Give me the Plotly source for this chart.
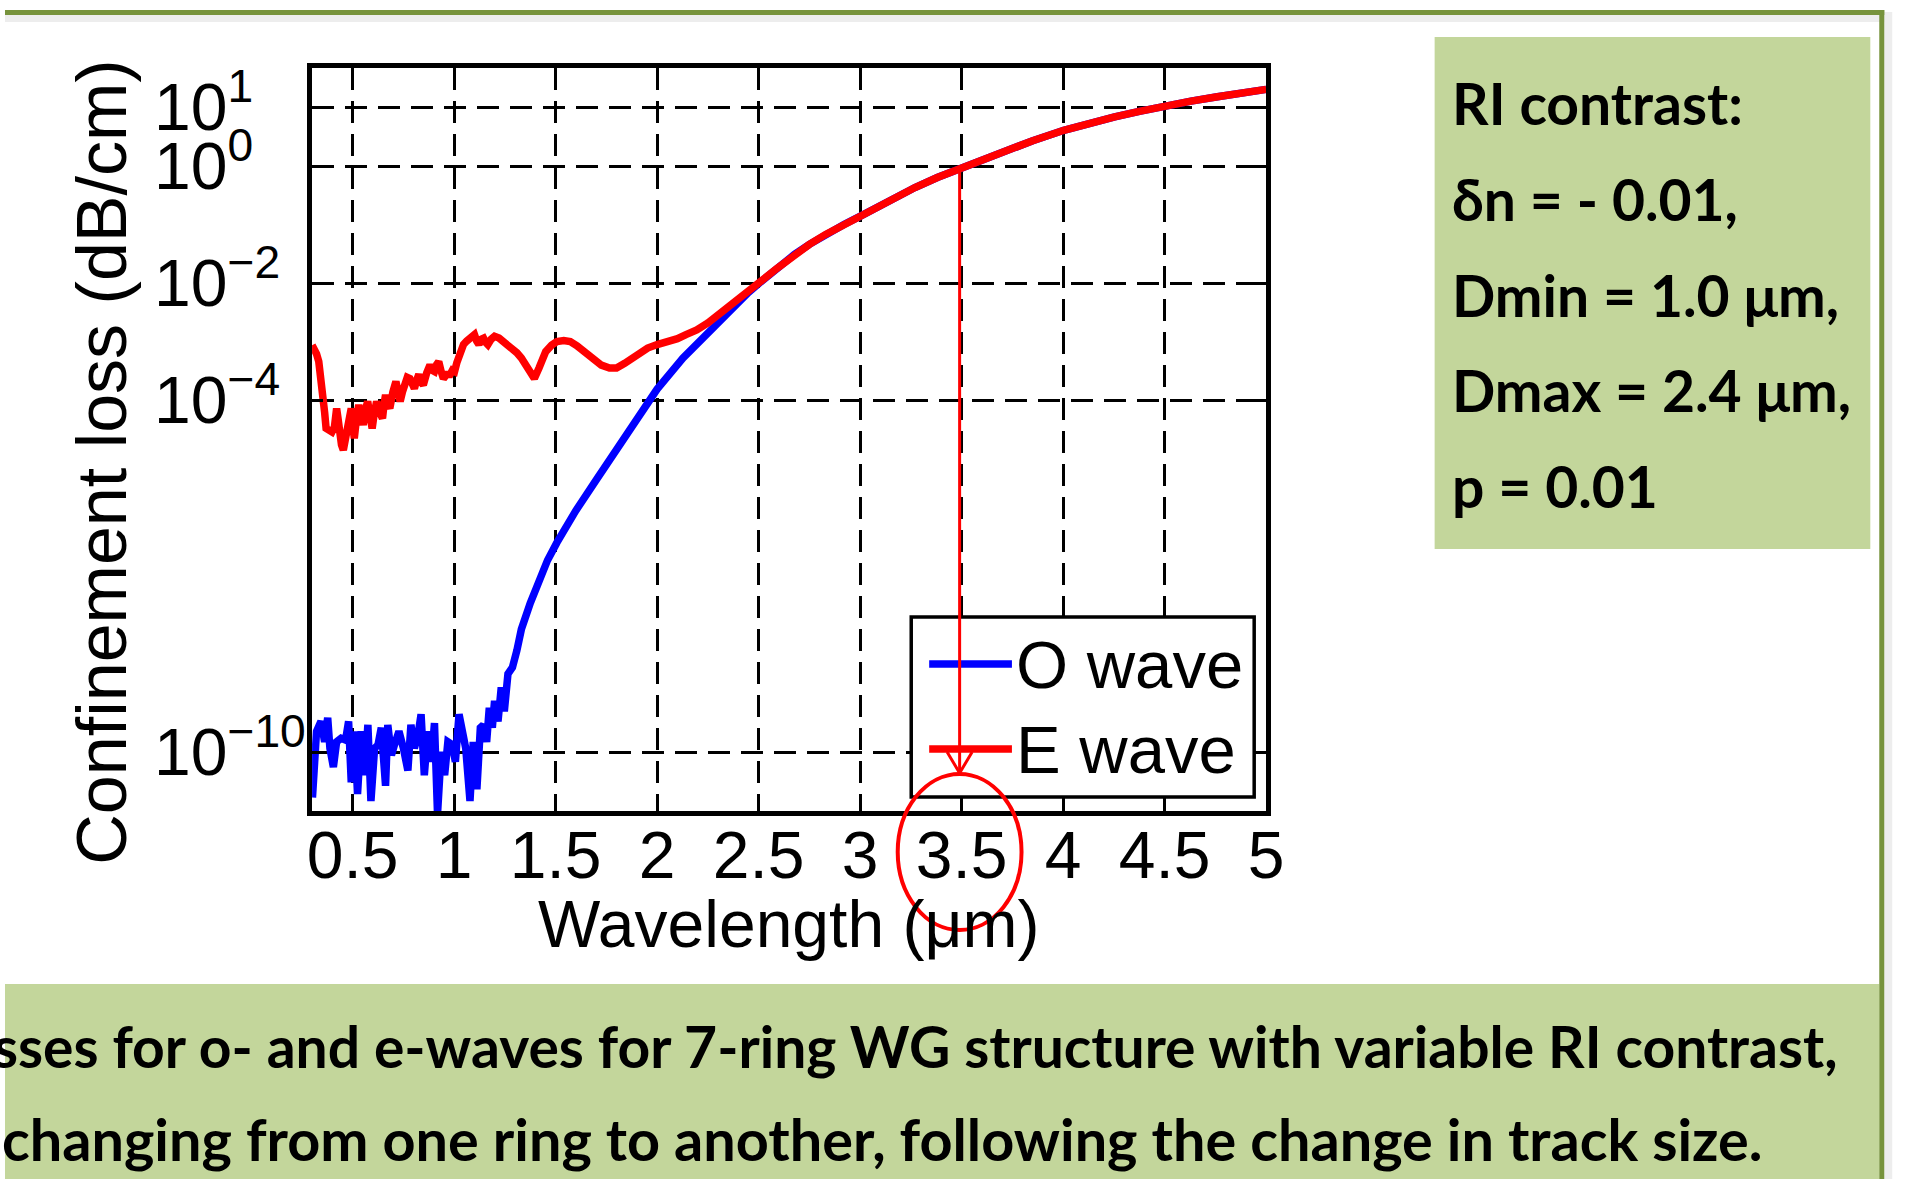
import plotly.graph_objects as go

W, H = 1927, 1179

# ---------------- data ----------------
# O wave (blue): wavelength in um, confinement loss as log10(dB/cm)
o_wave_wavelength = [
    0.302, 0.322, 0.344, 0.362, 0.377, 0.388, 0.405, 0.421, 0.443, 0.465,
    0.480, 0.493, 0.509, 0.524, 0.542, 0.559, 0.575, 0.590, 0.608, 0.625,
    0.641, 0.662, 0.673, 0.691, 0.706, 0.728, 0.750, 0.772, 0.787, 0.804,
    0.822, 0.837, 0.853, 0.870, 0.888, 0.903, 0.918, 0.936, 0.953, 0.969,
    0.991, 1.006, 1.024, 1.041, 1.057, 1.078, 1.094, 1.112, 1.129, 1.144,
    1.160, 1.173, 1.188, 1.199, 1.216, 1.232, 1.247, 1.265, 1.287, 1.309,
    1.331, 1.375, 1.418, 1.460, 1.506, 1.550, 1.600, 1.700, 1.800, 1.900,
    2.000, 2.127, 2.239, 2.326, 2.392, 2.450, 2.500, 2.590, 2.677, 2.750,
    2.830, 2.920, 3.006, 3.140, 3.270, 3.380, 3.490, 3.600, 3.708, 3.850,
    4.003, 4.130, 4.254, 4.375, 4.497, 4.630, 4.760, 4.880, 5.000,
]
o_wave_log10_loss = [
    -10.77, -9.64, -9.47, -9.82, -9.41, -9.93, -10.25, -9.82, -9.76, -9.79,
    -9.47, -10.51, -9.64, -10.71, -9.64, -10.39, -9.53, -10.83, -9.93, -9.87,
    -9.58, -10.57, -9.53, -10.05, -9.87, -9.64, -9.93, -10.31, -9.53, -9.93,
    -9.70, -9.35, -10.39, -9.64, -10.16, -9.50, -11.05, -9.99, -10.39, -9.82,
    -9.87, -10.16, -9.35, -9.76, -9.93, -10.83, -9.82, -10.63, -9.58, -9.53,
    -9.82, -9.24, -9.58, -9.12, -9.47, -8.89, -9.30, -8.66, -8.55, -8.26,
    -7.90, -7.45, -7.04, -6.72, -6.42, -6.14, -5.87, -5.35, -4.84, -4.32,
    -3.80, -3.27, -2.87, -2.56, -2.33, -2.15, -2.00, -1.74, -1.50, -1.33,
    -1.16, -0.99, -0.84, -0.59, -0.36, -0.19, -0.04, 0.11, 0.245, 0.44,
    0.617, 0.74, 0.845, 0.94, 1.03, 1.115, 1.19, 1.255, 1.315,
]

# E wave (red)
e_wave_wavelength = [
    0.300, 0.310, 0.322, 0.333, 0.344, 0.354, 0.362, 0.369, 0.383, 0.398,
    0.410, 0.421, 0.428, 0.436, 0.445, 0.454, 0.465, 0.476, 0.485, 0.493,
    0.500, 0.508, 0.519, 0.530, 0.541, 0.552, 0.563, 0.574, 0.585, 0.596,
    0.607, 0.618, 0.632, 0.647, 0.655, 0.662, 0.672, 0.683, 0.698, 0.713,
    0.724, 0.734, 0.745, 0.756, 0.769, 0.782, 0.793, 0.804, 0.815, 0.826,
    0.837, 0.848, 0.865, 0.881, 0.892, 0.903, 0.914, 0.924, 0.936, 0.947,
    0.963, 0.980, 0.991, 1.002, 1.013, 1.024, 1.035, 1.046, 1.062, 1.078,
    1.089, 1.100, 1.111, 1.122, 1.133, 1.145, 1.155, 1.166, 1.182, 1.199,
    1.221, 1.243, 1.265, 1.287, 1.309, 1.331, 1.353, 1.375, 1.395, 1.418,
    1.435, 1.451, 1.480, 1.506, 1.540, 1.572, 1.605, 1.638, 1.680, 1.725,
    1.765, 1.800, 1.840, 1.879, 1.915, 1.953, 2.000, 2.063, 2.100, 2.142,
    2.195, 2.250, 2.304, 2.350, 2.392, 2.450, 2.500, 2.590, 2.677, 2.750,
    2.830, 2.920, 3.006, 3.140, 3.270, 3.380, 3.490, 3.600, 3.708, 3.850,
    4.003, 4.130, 4.254, 4.375, 4.497, 4.630, 4.760, 4.880, 5.000,
]
e_wave_log10_loss = [
    -3.05, -3.10, -3.20, -3.33, -3.60, -3.90, -4.20, -4.47, -4.52, -4.53,
    -4.45, -4.13, -4.30, -4.59, -4.75, -4.84, -4.65, -4.53, -4.30, -4.13,
    -4.40, -4.64, -4.30, -4.07, -4.25, -4.41, -4.15, -4.01, -4.25, -4.47,
    -4.20, -4.01, -4.18, -4.30, -4.05, -3.90, -4.05, -4.13, -3.85, -3.67,
    -3.85, -4.01, -3.85, -3.73, -3.60, -3.62, -3.75, -3.79, -3.65, -3.55,
    -3.68, -3.73, -3.52, -3.39, -3.48, -3.50, -3.38, -3.33, -3.50, -3.62,
    -3.55, -3.55, -3.48, -3.50, -3.35, -3.21, -3.10, -3.04, -2.98, -2.93,
    -2.90, -2.87, -2.98, -3.04, -2.95, -2.93, -3.00, -3.04, -2.95, -2.90,
    -2.93, -2.99, -3.04, -3.10, -3.18, -3.27, -3.40, -3.56, -3.62, -3.44,
    -3.28, -3.16, -3.05, -2.99, -2.97, -2.99, -3.06, -3.16, -3.28, -3.39,
    -3.44, -3.44, -3.36, -3.27, -3.18, -3.10, -3.04, -2.99, -2.94, -2.87,
    -2.79, -2.67, -2.53, -2.41, -2.30, -2.14, -1.99, -1.74, -1.50, -1.33,
    -1.16, -0.99, -0.84, -0.59, -0.36, -0.19, -0.04, 0.11, 0.245, 0.44,
    0.617, 0.74, 0.845, 0.94, 1.03, 1.115, 1.19, 1.255, 1.315,
]

series_names = ["O wave", "E wave"]
series_colors = ["#0000FF", "#FF0000"]

x_tick_values = [0.5, 1, 1.5, 2, 2.5, 3, 3.5, 4, 4.5, 5]
x_tick_labels = ["0.5", "1", "1.5", "2", "2.5", "3", "3.5", "4", "4.5", "5"]
y_tick_exponents = [1, 0, -2, -4, -10]
y_tick_labels = ["10<sup>1</sup>", "10<sup>0</sup>", "10<sup>\u22122</sup>",
                 "10<sup>\u22124</sup>", "10<sup>\u221210</sup>"]

x_title = "Wavelength (\u03bcm)"
y_title = "Confinement loss (dB/cm)"

marked_wavelength = 3.49

info_lines = ["RI contrast:", "\u03b4n = - 0.01,", "Dmin = 1.0 \u03bcm,",
              "Dmax = 2.4 \u03bcm,", "p = 0.01"]
caption_lines = [
    "sses for o- and e-waves for 7-ring WG structure with variable RI contrast,",
    "changing from one ring to another, following the change in track size.",
]

# ---------------- helpers (pixel -> paper) ----------------
KX = 1.009  # small horizontal correction measured on the rendered page


def X(p):
    return p * KX / W


def Y(p):
    return 1 - p / H


CHART_FONT = "Liberation Sans, Arial, Helvetica, sans-serif"
TEXT_FONT = "Lato, Open Sans, sans-serif"
GREEN_FILL = "#C3D69B"
GREEN_LINE = "#77933C"
FS = 66


def base_y(baseline_px, size, descent=0.212):
    return Y(baseline_px + descent * size + 1)


fig = go.Figure()

for xs, ls, name, col in [
    (o_wave_wavelength, o_wave_log10_loss, series_names[0], series_colors[0]),
    (e_wave_wavelength, e_wave_log10_loss, series_names[1], series_colors[1]),
]:
    fig.add_trace(go.Scatter(
        x=xs, y=[10 ** v for v in ls], mode="lines", name=name,
        line=dict(color=col, width=7.5), showlegend=False,
    ))

axis_common = dict(
    showline=True, linecolor="black", linewidth=4.5, mirror="allticks",
    ticks="inside", ticklen=11, tickwidth=3, tickcolor="black",
    showgrid=True, gridcolor="black", gridwidth=3, griddash="22px,11px",
    zeroline=False,
)

fig.update_layout(
    width=W, height=H, margin=dict(l=0, r=0, t=0, b=0),
    paper_bgcolor="white", plot_bgcolor="white", showlegend=False,
    xaxis=dict(
        domain=[X(308), X(1265)], range=[0.3, 5.0],
        tickvals=x_tick_values, ticktext=x_tick_labels,
        tickfont=dict(family=CHART_FONT, size=FS, color="black"),
        ticklabelstandoff=-17,
        **axis_common,
    ),
    yaxis=dict(
        domain=[Y(811), Y(68)], type="log", range=[-11, 1.68],
        tickvals=[10 ** e for e in y_tick_exponents], showticklabels=False,
        **axis_common,
    ),
)

shapes = []
# slide decoration: top border with shadow, right border, green boxes
shapes.append(dict(type="rect", xref="paper", yref="paper", x0=0, x1=X(1885),
                   y0=Y(22), y1=Y(15), fillcolor="rgba(0,0,0,0.07)", line_width=0, layer="below"))
shapes.append(dict(type="rect", xref="paper", yref="paper", x0=X(1885), x1=X(1893),
                   y0=0, y1=Y(12), fillcolor="rgba(0,0,0,0.07)", line_width=0, layer="below"))
shapes.append(dict(type="line", xref="paper", yref="paper", x0=0, x1=X(1885),
                   y0=Y(12.5), y1=Y(12.5), line=dict(color=GREEN_LINE, width=5)))
shapes.append(dict(type="line", xref="paper", yref="paper", x0=X(1882.5), x1=X(1882.5),
                   y0=0, y1=Y(10), line=dict(color=GREEN_LINE, width=5)))
shapes.append(dict(type="rect", xref="paper", yref="paper", x0=X(1434), x1=X(1871),
                   y0=Y(549), y1=Y(37), fillcolor=GREEN_FILL, line_width=0, layer="below"))
shapes.append(dict(type="rect", xref="paper", yref="paper", x0=0, x1=X(1880),
                   y0=0, y1=Y(984), fillcolor=GREEN_FILL, line_width=0, layer="below"))

# legend box
shapes.append(dict(type="rect", xref="paper", yref="paper", x0=X(909), x1=X(1253),
                   y0=Y(797), y1=Y(617), fillcolor="white", line=dict(color="black", width=3.5)))
for name, col, ypx in [(series_names[0], series_colors[0], 664), (series_names[1], series_colors[1], 749)]:
    shapes.append(dict(type="line", xref="paper", yref="paper", x0=X(927), x1=X(1010),
                       y0=Y(ypx), y1=Y(ypx), line=dict(color=col, width=7.5)))

# red arrow + ellipse marking 3.5 um
shapes.append(dict(type="line", xref="x", yref="paper", x0=marked_wavelength, x1=marked_wavelength,
                   y0=Y(168), y1=Y(772), line=dict(color="#FF0000", width=3)))
shapes.append(dict(type="path", xref="x", xsizemode="pixel", xanchor=marked_wavelength, yref="paper",
                   path=f"M -12.5,{Y(752)} L 0,{Y(773)} L 12.5,{Y(752)}",
                   line=dict(color="#FF0000", width=3)))
shapes.append(dict(type="circle", xref="x", yref="paper", x0=marked_wavelength - 0.305,
                   x1=marked_wavelength + 0.305, y0=Y(930), y1=Y(774),
                   line=dict(color="#FF0000", width=4)))

annotations = []
# y tick labels (left-aligned like the original)
for e, t in zip(y_tick_exponents, y_tick_labels):
    annotations.append(dict(text=t, xref="paper", x=X(147), xanchor="left",
                            yref="y", y=e, yanchor="bottom", yshift=-(0.358 * FS + 0.212 * FS + 1),
                            showarrow=False, font=dict(family=CHART_FONT, size=FS, color="black")))
# axis titles
annotations.append(dict(text=x_title, xref="paper", x=X(786), xanchor="center",
                        yref="paper", y=base_y(948, FS), yanchor="bottom", showarrow=False,
                        font=dict(family=CHART_FONT, size=FS, color="black")))
annotations.append(dict(text=y_title, xref="paper", x=X(97), xanchor="center",
                        yref="paper", y=Y(462), yanchor="middle", textangle=-90, showarrow=False,
                        font=dict(family=CHART_FONT, size=70, color="black")))
# legend labels
LEG_FS = 67
for name, bl in [(series_names[0], 689), (series_names[1], 774)]:
    annotations.append(dict(text=name, xref="paper", x=X(1012), xanchor="left",
                            yref="paper", y=base_y(bl, LEG_FS), yanchor="bottom", showarrow=False,
                            font=dict(family=CHART_FONT, size=LEG_FS, color="black")))
# info box
INFO_FS = 57
for line, bl in zip(info_lines, [126, 222, 318, 413, 509]):
    annotations.append(dict(text=line, xref="paper", x=X(1449), xanchor="left",
                            yref="paper", y=base_y(bl, INFO_FS, 0.213), yanchor="bottom", showarrow=False,
                            font=dict(family=TEXT_FONT, size=INFO_FS, color="black", weight="bold")))
# caption
annotations.append(dict(text=caption_lines[0], xref="paper", x=X(1841), xanchor="right",
                        yref="paper", y=base_y(1069, 57.0, 0.213), yanchor="bottom", showarrow=False,
                        font=dict(family=TEXT_FONT, size=57.0, color="black", weight="bold")))
annotations.append(dict(text=caption_lines[1], xref="paper", x=X(-5), xanchor="left",
                        yref="paper", y=base_y(1162, 57.6, 0.213), yanchor="bottom", showarrow=False,
                        font=dict(family=TEXT_FONT, size=57.6, color="black", weight="bold")))

fig.update_layout(shapes=shapes, annotations=annotations)
fig.write_html("out.html")
